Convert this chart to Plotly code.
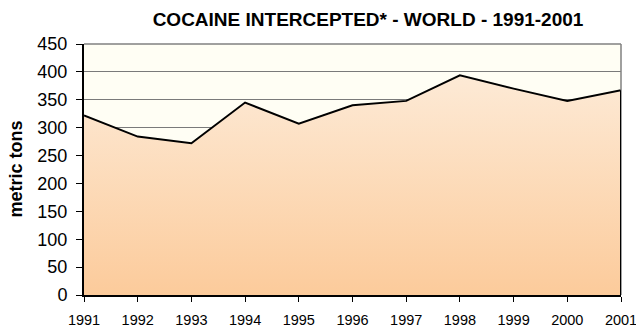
import plotly.graph_objects as go

years = [1991, 1992, 1993, 1994, 1995, 1996, 1997, 1998, 1999, 2000, 2001]
tons = [322, 284, 272, 345, 307, 340, 348, 394, 370, 348, 367]
y_ticks = [0, 50, 100, 150, 200, 250, 300, 350, 400, 450]

title_text = "COCAINE INTERCEPTED* - WORLD - 1991-2001"
y_title = "metric tons"

W, H = 636, 332
ML, MR, MT, MB = 84, 15, 44, 37
PW = W - ML - MR

fig = go.Figure()
fig.add_trace(go.Scatter(
    x=years, y=tons, mode="lines",
    line=dict(color="black", width=2),
    fill="tozeroy",
    fillgradient=dict(type="vertical",
                      colorscale=[[0, "rgb(252,203,155)"], [1, "rgb(253,234,214)"]]),
    hoverinfo="skip", showlegend=False,
))

shapes = [
    dict(type="line", xref="paper", yref="paper", x0=0, x1=1, y0=1, y1=1,
         line=dict(color="#808080", width=1.5), layer="above"),
    dict(type="line", xref="paper", yref="paper", x0=1, x1=1, y0=0, y1=1,
         line=dict(color="#808080", width=1.5), layer="above"),
    dict(type="line", xref="x", yref="y", x0=years[-1], x1=years[-1], y0=0, y1=tons[-1],
         line=dict(color="black", width=2), layer="above"),
]

fig.update_layout(
    width=W, height=H,
    margin=dict(l=ML, r=MR, t=MT, b=MB, autoexpand=False),
    paper_bgcolor="white",
    plot_bgcolor="rgb(255,254,244)",
    font=dict(family="Liberation Sans, Arial, sans-serif", color="black"),
    title=dict(text="<b>" + title_text + "</b>", font=dict(size=19, color="black"),
               xref="paper", x=(368 - ML) / PW, xanchor="center",
               yref="container", y=1 - 19.5 / H, yanchor="middle"),
    shapes=shapes,
    annotations=[dict(text="<b>" + y_title + "</b>", xref="paper", yref="paper",
                      x=(15 - ML) / PW, y=0.5, xanchor="center", yanchor="middle",
                      textangle=-90, showarrow=False, font=dict(size=18, color="black"))],
    xaxis=dict(range=[years[0], years[-1]], tickmode="array", tickvals=years,
               ticktext=[str(y) for y in years], showgrid=False, zeroline=False,
               showline=True, linecolor="black", linewidth=2,
               ticks="outside", ticklen=5, tickcolor="black", tickwidth=1,
               tickfont=dict(size=14.5), ticklabeloverflow="allow",
               ticklabelstandoff=6, automargin=False),
    yaxis=dict(range=[0, 450], tickmode="array", tickvals=y_ticks,
               showgrid=True, gridcolor="#7a7a7a", gridwidth=1, zeroline=False,
               showline=True, linecolor="black", linewidth=2,
               ticks="outside", ticklen=6, tickcolor="black", tickwidth=1,
               tickfont=dict(size=18), ticklabelstandoff=5, automargin=False),
)

fig.write_html("out.html", config={"displayModeBar": False},
               post_script="document.body.style.margin='0';document.body.style.overflow='hidden';")
